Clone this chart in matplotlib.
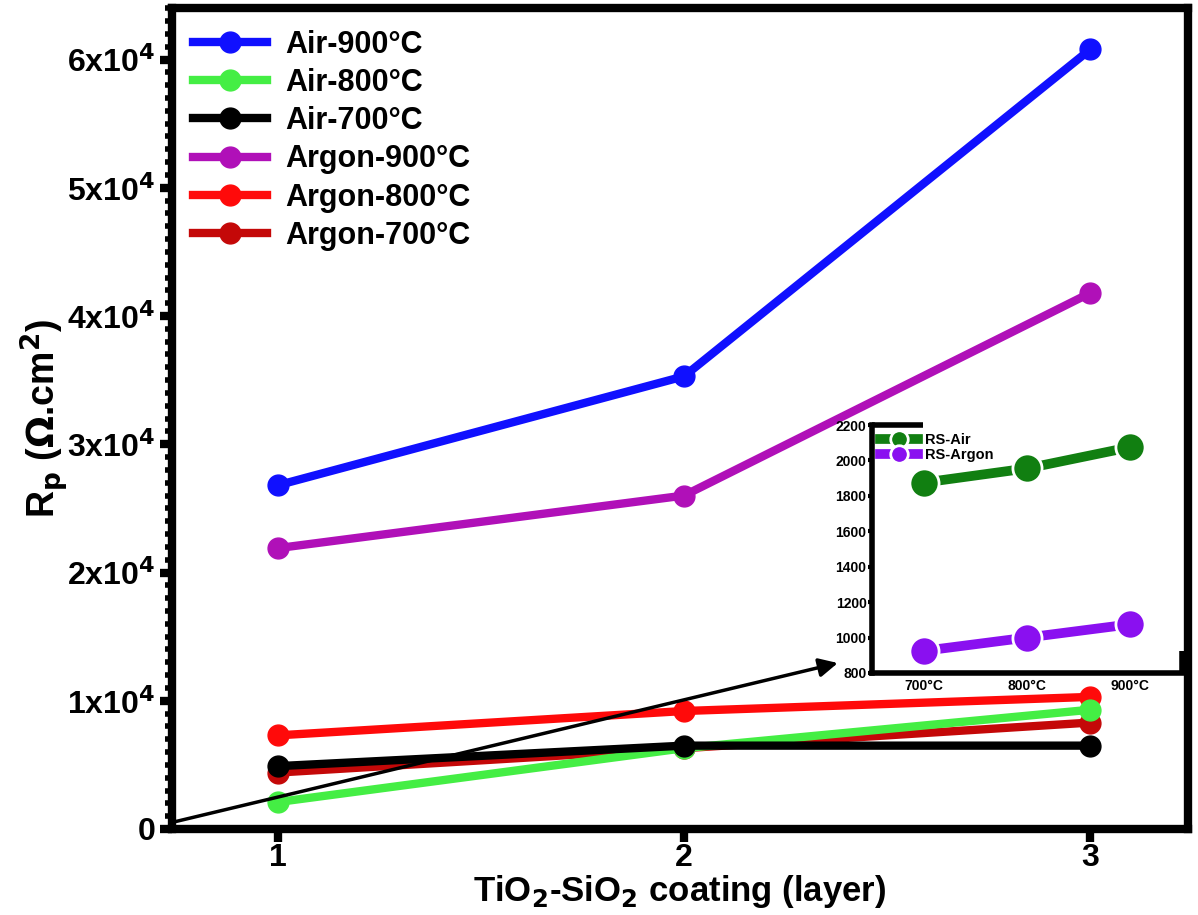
import matplotlib.pyplot as plt
from matplotlib.ticker import MultipleLocator, FixedLocator

plt.rcParams['font.family'] = ['Liberation Sans', 'DejaVu Sans']
plt.rcParams['font.weight'] = 'bold'
plt.rcParams['mathtext.default'] = 'bf'

# ---- data ----
layers = [1, 2, 3]
air_900 = [26800, 35300, 60800]
air_800 = [2100, 6300, 9300]
air_700 = [4900, 6500, 6500]
argon_900 = [21900, 26000, 41800]
argon_800 = [7300, 9200, 10300]
argon_700 = [4400, 6300, 8300]

series_names = ["Air-900°C", "Air-800°C", "Air-700°C",
                "Argon-900°C", "Argon-800°C", "Argon-700°C"]
series_colors = ["#1010ff", "#44ee44", "#000000", "#b010b8", "#ff0a0a", "#c40808"]

temps = [700, 800, 900]
temp_labels = ["700°C", "800°C", "900°C"]
rs_air = [1875, 1955, 2075]
rs_argon = [925, 1000, 1075]

y_ticks = [0, 10000, 20000, 30000, 40000, 50000, 60000]
y_ticklabels = ["0", "1x10$^4$", "2x10$^4$", "3x10$^4$", "4x10$^4$", "5x10$^4$", "6x10$^4$"]

# ---- main chart ----
fig = plt.figure(figsize=(11.98, 9.15), dpi=100)
ax = fig.add_axes([0.1436, 0.094, 0.848, 0.897])

all_series = [air_900, air_800, air_700, argon_900, argon_800, argon_700]
# draw order so that black stays on top as in the figure
order = [0, 3, 4, 5, 1, 2]
handles = {}
for i in order:
    h, = ax.plot(layers, all_series[i], color=series_colors[i], lw=6,
                 marker='o', ms=15, label=series_names[i])
    handles[i] = h

ax.set_xlim(0.74, 3.24)
ax.set_ylim(0, 64000)
ax.set_xticks(layers)
ax.set_xticklabels([str(v) for v in layers])
ax.yaxis.set_major_locator(FixedLocator(y_ticks))
ax.set_yticklabels(y_ticklabels)
ax.yaxis.set_minor_locator(MultipleLocator(1000))

for s in ax.spines.values():
    s.set_linewidth(6)
ax.tick_params(axis='both', which='major', direction='out', length=9, width=6,
               labelsize=23, pad=3)
ax.tick_params(axis='x', which='major', pad=1)
ax.tick_params(axis='y', which='minor', direction='out', length=5, width=4)
for lab in ax.get_xticklabels() + ax.get_yticklabels():
    lab.set_fontweight('bold')

ax.set_xlabel("TiO$_2$-SiO$_2$ coating (layer)", fontsize=25, fontweight='bold', labelpad=0)
ax.set_ylabel("R$_p$ ($\\Omega$.cm$^2$)", fontsize=27, fontweight='bold', labelpad=-2)

leg = ax.legend([handles[i] for i in range(6)], series_names, loc='upper left',
                frameon=False, handlelength=2.4, handletextpad=0.6,
                borderaxespad=0.3, labelspacing=0.27,
                prop={'weight': 'bold', 'size': 22})

# arrow from the origin to the inset
ax.annotate("", xy=(0.658, 0.203), xycoords='axes fraction',
            xytext=(0.0, 0.008), textcoords='axes fraction',
            arrowprops=dict(arrowstyle='-|>', color='black', lw=2.5,
                            mutation_scale=28))

# ---- inset ----
ins = fig.add_axes([0.728, 0.2645, 0.2586, 0.271])
ins.plot(temps, rs_air, color='#117f11', lw=7, marker='o', ms=21,
         mec='white', mew=2, label="RS-Air")
ins.plot(temps, rs_argon, color='#8a10f0', lw=7, marker='o', ms=21,
         mec='white', mew=2, label="RS-Argon")
ins.set_xlim(650, 950)
ins.set_ylim(800, 2200)
ins.set_xticks(temps)
ins.set_xticklabels(temp_labels)
ins.set_yticks(range(800, 2201, 200))
ins.spines['top'].set_visible(False)
ins.spines['right'].set_visible(False)
ins.spines['left'].set_linewidth(4)
ins.spines['bottom'].set_linewidth(4)
ins.plot([0, 0.165], [1, 1], transform=ins.transAxes, color='black', lw=4,
         clip_on=False, solid_capstyle='butt')
ins.plot([1, 1], [0, 0.09], transform=ins.transAxes, color='black', lw=4,
         clip_on=False, solid_capstyle='butt')
ins.tick_params(axis='both', direction='out', length=3, width=3, labelsize=10, pad=1)
ins.tick_params(axis='x', length=0, pad=4)
for lab in ins.get_xticklabels() + ins.get_yticklabels():
    lab.set_fontweight('bold')
ins.legend(loc='upper left', frameon=False, handlelength=2.6, borderaxespad=0.15,
           labelspacing=0.1, markerscale=0.6, handletextpad=0.5,
           prop={'weight': 'bold', 'size': 10.5})

fig.savefig("out.png", dpi=100)
